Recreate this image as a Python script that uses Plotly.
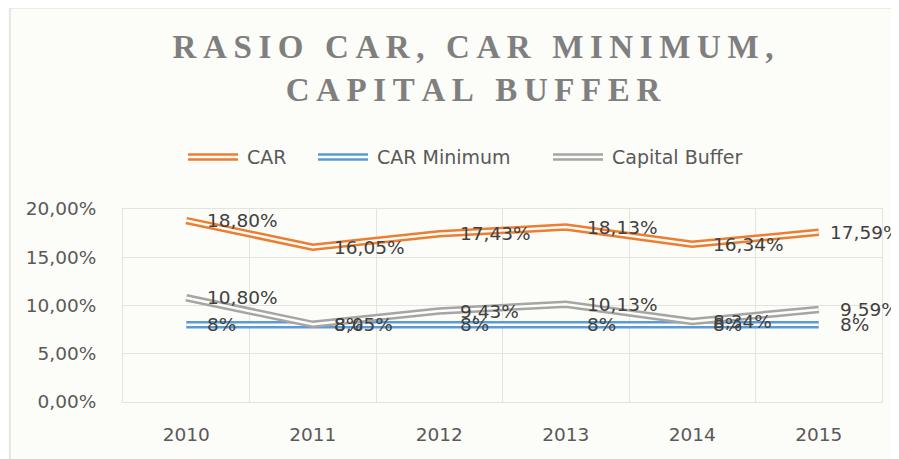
import plotly.graph_objects as go

# data (percent)
years = ["2010", "2011", "2012", "2013", "2014", "2015"]
car = [18.80, 16.05, 17.43, 18.13, 16.34, 17.59]
car_min = [8, 8, 8, 8, 8, 8]
capital_buffer = [10.80, 8.05, 9.43, 10.13, 8.34, 9.59]

series_names = ["CAR", "CAR Minimum", "Capital Buffer"]
series_values = [car, car_min, capital_buffer]
series_colors = ["#ED7D31", "#5B9BD5", "#A5A5A5"]

title_lines = ["RASIO CAR, CAR MINIMUM,", "CAPITAL BUFFER"]

BG = "#fcfcf8"
GRID = "#e4e4df"
SANS = "DejaVu Sans, Open Sans, sans-serif"

# page is 899 x 459, the html body adds an 8px margin, so work in page pixels
OFF = 8
PW, PH = 899, 459
W, H = PW - OFF, PH - OFF
# plot area on the page
PL, PR, PT, PB = 123, 882, 209, 402
L, T = PL - OFF, PT - OFF
R, B = PW - PR, H - (PB - OFF)
CHART_RIGHT = 901  # right edge of the excel chart area (just off the picture)


def px_x(x):
    return (x - PL) / (PR - PL)


def px_y(y):
    return (PB - y) / (PB - PT)


def spaced(s):
    # fake letter spacing with thin spaces
    return "\u2009".join(s)


def pct_label(v):
    if float(v).is_integer():
        return "%d%%" % v
    return ("%.2f" % v).replace(".", ",") + "%"


fig = go.Figure()

# each series drawn as a double line: wide coloured line + thin background line on top
for name, vals, col in zip(series_names, series_values, series_colors):
    fig.add_trace(go.Scatter(x=years, y=vals, mode="lines", name=name,
                             line=dict(color=col, width=7.5), showlegend=False,
                             hoverinfo="skip"))
    fig.add_trace(go.Scatter(x=years, y=vals, mode="lines", name=name,
                             line=dict(color=BG, width=2.5), showlegend=False,
                             hoverinfo="skip"))

# data labels to the right of each point (x given as category index)
band = (PR - PL) / len(years)
annotations = []
for vals in series_values:
    for i, v in enumerate(vals):
        txt = pct_label(v)
        shift = 19
        # excel pulls a label back in when it would run past the chart edge
        start = PL + (i + 0.5) * band + shift + 4
        width = 11.5 * len(txt)
        if start + width > CHART_RIGHT:
            shift -= start + width - CHART_RIGHT
        annotations.append(dict(x=i, y=v, xref="x", yref="y", text=txt,
                                showarrow=False, xanchor="left", yanchor="middle",
                                xshift=shift, font=dict(family=SANS, size=18.5, color="#404040")))

# hand made legend so the samples can show the double line
shapes = []
legend_items = [(188, 238, 245), (318, 368, 375), (553, 603, 610)]
legend_y = 157
for (x0, x1, tx), name, col in zip(legend_items, series_names, series_colors):
    for w, c in [(7.5, col), (2.5, BG)]:
        shapes.append(dict(type="line", xref="paper", yref="paper",
                           x0=px_x(x0), x1=px_x(x1), y0=px_y(legend_y), y1=px_y(legend_y),
                           line=dict(color=c, width=w)))
    annotations.append(dict(x=px_x(tx), y=px_y(legend_y), xref="paper", yref="paper",
                            text=name, showarrow=False, xanchor="left", yanchor="middle",
                            font=dict(family=SANS, size=19, color="#595959")))

# outer chart border (runs off the right/bottom of the picture)
shapes.append(dict(type="rect", xref="paper", yref="paper", layer="below",
                   x0=px_x(10), x1=px_x(960), y0=px_y(520), y1=px_y(8),
                   line=dict(color="#d9d9d9", width=1.2), fillcolor="rgba(0,0,0,0)"))

fig.update_layout(
    width=W, height=H,
    margin=dict(l=L, r=R, t=T, b=B, autoexpand=False),
    paper_bgcolor=BG, plot_bgcolor=BG,
    separators=",.",
    showlegend=False,
    title=dict(text="<b>" + "<br>".join(spaced(t) for t in title_lines) + "</b>",
               x=(473 - OFF) / W, xref="container", xanchor="center",
               y=1 - 50 / H, yref="container", yanchor="top",
               font=dict(family="Liberation Serif, Times New Roman, serif",
                         size=33, color="#7f7f7f")),
    annotations=annotations,
    shapes=shapes,
)

fig.update_xaxes(type="category", range=[-0.5, 5.5], tickson="boundaries",
                 showgrid=True, gridcolor=GRID, gridwidth=1, showline=True,
                 linecolor=GRID, mirror=True, ticks="", automargin=False,
                 ticklabelstandoff=16, zeroline=False, tickangle=0,
                 tickfont=dict(family=SANS, size=18.5, color="#595959"))
fig.update_yaxes(range=[0, 20], dtick=5, tickformat=".2f", ticksuffix="%",
                 showgrid=True, gridcolor=GRID, gridwidth=1, showline=True,
                 linecolor=GRID, mirror=True, zeroline=False, ticks="",
                 ticklabelstandoff=22, automargin=False,
                 tickfont=dict(family=SANS, size=18.5, color="#595959"))

fig.write_html("out.html")
